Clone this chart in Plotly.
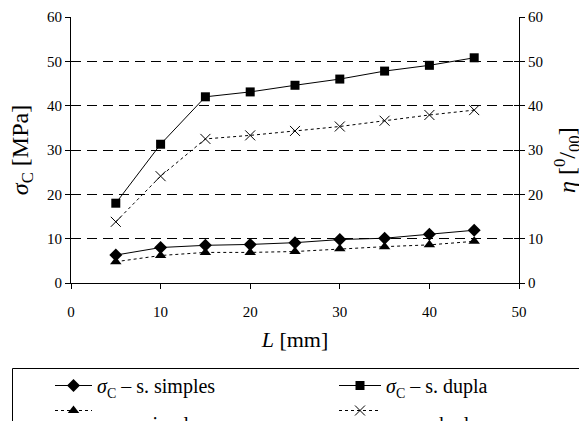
import plotly.graph_objects as go

L_mm = [5, 10, 15, 20, 25, 30, 35, 40, 45]
sigma_simples = [6.3, 8.0, 8.5, 8.7, 9.1, 9.8, 10.1, 11.0, 11.9]
sigma_dupla = [18.0, 31.3, 42.0, 43.1, 44.6, 46.0, 47.8, 49.1, 50.8]
eta_simples = [4.8, 6.2, 6.9, 6.9, 7.1, 7.7, 8.2, 8.6, 9.4]
eta_dupla = [13.8, 24.1, 32.5, 33.3, 34.3, 35.3, 36.6, 37.9, 39.0]

x_ticks = [0, 10, 20, 30, 40, 50]
y_ticks = [0, 10, 20, 30, 40, 50, 60]

names = [
    "<i>σ</i><sub>C</sub> – s. simples",
    "<i>σ</i><sub>C</sub> – s. dupla",
    "<br><i>η</i> – s. simples",
    "<br><i>η</i> – s. dupla",
]

W, H = 579, 421
ml, mr, mt, mb = 71, 60, 17, 138
pw, ph = W - ml - mr, H - mt - mb

def px_x(p):
    return (p - ml) / pw

def px_y(p):
    return (H - mb - p) / ph

FONT = "Liberation Serif, Times New Roman, Times, serif"

fig = go.Figure()
fig.add_trace(go.Scatter(x=L_mm, y=sigma_simples, name=names[0], mode="lines+markers",
                         legend="legend",
                         line=dict(color="black", width=1),
                         marker=dict(symbol="diamond", size=10, color="black")))
fig.add_trace(go.Scatter(x=L_mm, y=sigma_dupla, name=names[1], mode="lines+markers",
                         legend="legend2",
                         line=dict(color="black", width=1),
                         marker=dict(symbol="square", size=9, color="black")))
fig.add_trace(go.Scatter(x=L_mm, y=eta_simples, name=names[2], mode="lines+markers", yaxis="y2",
                         legend="legend3",
                         line=dict(color="black", width=1, dash="dot"),
                         marker=dict(symbol="triangle-up", size=10, color="black")))
fig.add_trace(go.Scatter(x=L_mm, y=eta_dupla, name=names[3], mode="lines+markers", yaxis="y2",
                         legend="legend4",
                         line=dict(color="black", width=1, dash="dot"),
                         marker=dict(symbol="x-thin", size=10, color="black",
                                     line=dict(color="black", width=1))))

tickfont = dict(family=FONT, size=15, color="black")
legfont = dict(family=FONT, size=20, color="black")

def leg(xpx, ytop, iw):
    return dict(orientation="v", x=px_x(xpx), xanchor="left", y=px_y(ytop), yanchor="top",
                itemwidth=iw, valign="middle",
                bgcolor="rgba(0,0,0,0)", font=legfont, tracegroupgap=0)

fig.update_layout(
    width=W, height=H,
    margin=dict(l=ml, r=mr, t=mt, b=mb, autoexpand=False),
    paper_bgcolor="white", plot_bgcolor="white",
    font=dict(family=FONT, color="black"),
    xaxis=dict(range=[0, 50], tickvals=x_ticks, ticks="outside", ticklen=5,
               tickcolor="black", showline=True, linecolor="black", linewidth=1,
               showgrid=False, zeroline=False, tickfont=tickfont, ticklabelstandoff=10,
               title=dict(text="<i>L</i> [mm]", font=dict(family=FONT, size=22), standoff=12)),
    yaxis=dict(range=[0, 60], tickvals=y_ticks, ticks="outside", ticklen=5,
               tickcolor="black", showline=True, linecolor="black", linewidth=1,
               showgrid=True, gridcolor="black", gridwidth=1, griddash="10px,6px",
               zeroline=False, tickfont=tickfont,
               title=dict(text="<i>σ</i><sub>C</sub> [MPa]", font=dict(family=FONT, size=24), standoff=11)),
    yaxis2=dict(range=[0, 60], tickvals=y_ticks, ticks="outside", ticklen=5,
                tickcolor="black", showline=True, linecolor="black", linewidth=1,
                overlaying="y", side="right", showgrid=False, zeroline=False,
                tickfont=tickfont),
    yaxis3=dict(range=[0, 60], tickvals=y_ticks, ticks="inside", ticklen=5,
                tickcolor="black", overlaying="y", side="left", showgrid=False,
                zeroline=False, showticklabels=False, showline=False),
    yaxis4=dict(range=[0, 60], tickvals=y_ticks, ticks="inside", ticklen=5,
                tickcolor="black", overlaying="y", side="right", showgrid=False,
                zeroline=False, showticklabels=False, showline=False),
    legend=leg(50, 366, 37),
    legend2=leg(334, 366, 42),
    legend3=leg(50, 378, 37),
    legend4=leg(334, 378, 42),
    annotations=[dict(text="<i>η</i> [<sup>0</sup>/<sub>00</sub>]", textangle=-90,
                      xref="paper", yref="paper", x=px_x(567), y=px_y(160),
                      xanchor="center", yanchor="middle", showarrow=False,
                      font=dict(family=FONT, size=24, color="black"))],
    shapes=[dict(type="rect", xref="paper", yref="paper",
                 x0=px_x(12.5), x1=px_x(640), y0=px_y(368.5), y1=px_y(470),
                 line=dict(color="black", width=1), fillcolor="rgba(0,0,0,0)")],
)
# dummy traces to activate the inside tick axes
fig.add_trace(go.Scatter(x=[None], y=[None], yaxis="y3", showlegend=False, hoverinfo="skip"))
fig.add_trace(go.Scatter(x=[None], y=[None], yaxis="y4", showlegend=False, hoverinfo="skip"))

fig.write_html("out.html")
